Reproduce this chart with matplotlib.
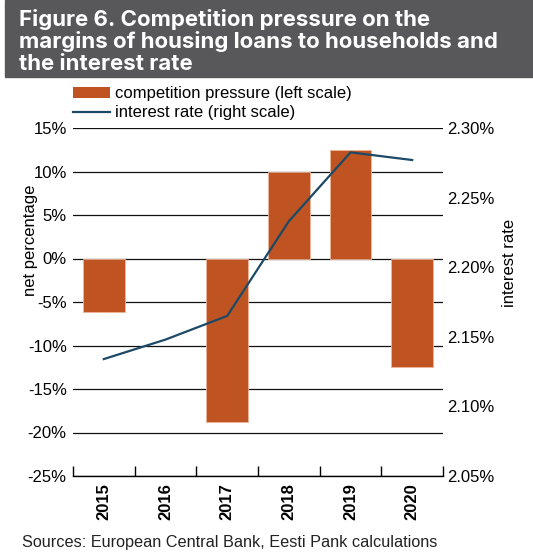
import numpy as np
import matplotlib
matplotlib.use('Agg')
import matplotlib.pyplot as plt
from matplotlib.patches import Patch, Rectangle
from matplotlib.lines import Line2D
from matplotlib.ticker import FixedLocator

plt.rcParams['font.family'] = ['Liberation Sans', 'DejaVu Sans']

years = ['2015', '2016', '2017', '2018', '2019', '2020']
# competition pressure, net percentage (left scale)
pressure = [-6.2, np.nan, -18.75, 10.0, 12.5, -12.5]
# interest rate, % (right scale)
rate = [2.134, 2.148, 2.165, 2.233, 2.2825, 2.277]

left_ticks = [-25, -20, -15, -10, -5, 0, 5, 10, 15]
right_ticks = [2.05, 2.10, 2.15, 2.20, 2.25, 2.30]

bar_color = '#bf5322'
line_color = '#1c4a66'
title_bg = '#58585a'

W, H = 533, 556
fig = plt.figure(figsize=(W / 100, H / 100), dpi=100)

# title band
fig.patches.append(Rectangle((5 / W, 1 - 77 / H), 1 - 5 / W, 77 / H,
                             transform=fig.transFigure, color=title_bg, zorder=0))
fig.text(19 / W, 1 - 9 / H,
         'Figure 6. Competition pressure on the\n'
         'margins of housing loans to households and\n'
         'the interest rate',
         ha='left', va='top', color='white', fontsize=16, fontweight='bold',
         family=['Inter', 'Liberation Sans'], linespacing=1.08)

ax = fig.add_axes([73 / W, (H - 476) / H, 370 / W, 348 / H])
x = np.arange(len(years))
ax.bar(x, pressure, width=0.68, color=bar_color, edgecolor='#eeb49a',
       linewidth=0.6, zorder=2)
ax.set_xlim(-0.5, len(years) - 0.5)
ax.set_ylim(-25, 15)
ax.set_yticks(left_ticks)
ax.set_yticklabels(['%d%%' % v for v in left_ticks])
ax.yaxis.grid(True, color='#111111', linewidth=0.9, zorder=1)
ax.set_axisbelow(True)
for s in ['left', 'right', 'top']:
    ax.spines[s].set_visible(False)
ax.spines['bottom'].set_linewidth(1.0)
ax.tick_params(axis='y', length=0, pad=4.5, labelsize=12)
ax.set_xticks(x)
ax.set_xticklabels(years, rotation=90, fontweight='bold', fontsize=12)
ax.tick_params(axis='x', which='major', length=0, pad=5)
ax.xaxis.set_minor_locator(FixedLocator(np.arange(len(years) + 1) - 0.5))
ax.tick_params(axis='x', which='minor', direction='in', length=7, width=1)

ax2 = ax.twinx()
ax2.plot(x, rate, color=line_color, linewidth=1.6, zorder=3)
ax2.set_ylim(2.05, 2.30)
ax2.set_yticks(right_ticks)
ax2.set_yticklabels(['%.2f%%' % v for v in right_ticks])
for s in ['left', 'right', 'top', 'bottom']:
    ax2.spines[s].set_visible(False)
ax2.tick_params(axis='y', length=0, pad=3, labelsize=12)

# axis titles
fig.text(30 / W, 1 - 240 / H, 'net percentage', rotation=90,
         ha='center', va='center', fontsize=12)
fig.text(509 / W, 1 - 263 / H, 'interest rate', rotation=90,
         ha='center', va='center', fontsize=12)

handles = [Patch(facecolor=bar_color, edgecolor='none'),
           Line2D([0], [0], color=line_color, linewidth=1.6)]
fig.legend(handles, ['competition pressure (left scale)', 'interest rate (right scale)'],
           loc='upper left', bbox_to_anchor=(73 / W, 1 - 86 / H), frameon=False,
           fontsize=12, handlelength=2.2, handleheight=0.66, handletextpad=0.3,
           labelspacing=0.27, borderpad=0, borderaxespad=0)

fig.text(22 / W, 1 - 543 / H, 'Sources: European Central Bank, Eesti Pank calculations',
         ha='left', va='center', fontsize=11.7, color='#222222')

fig.savefig('out.png', dpi=100)
